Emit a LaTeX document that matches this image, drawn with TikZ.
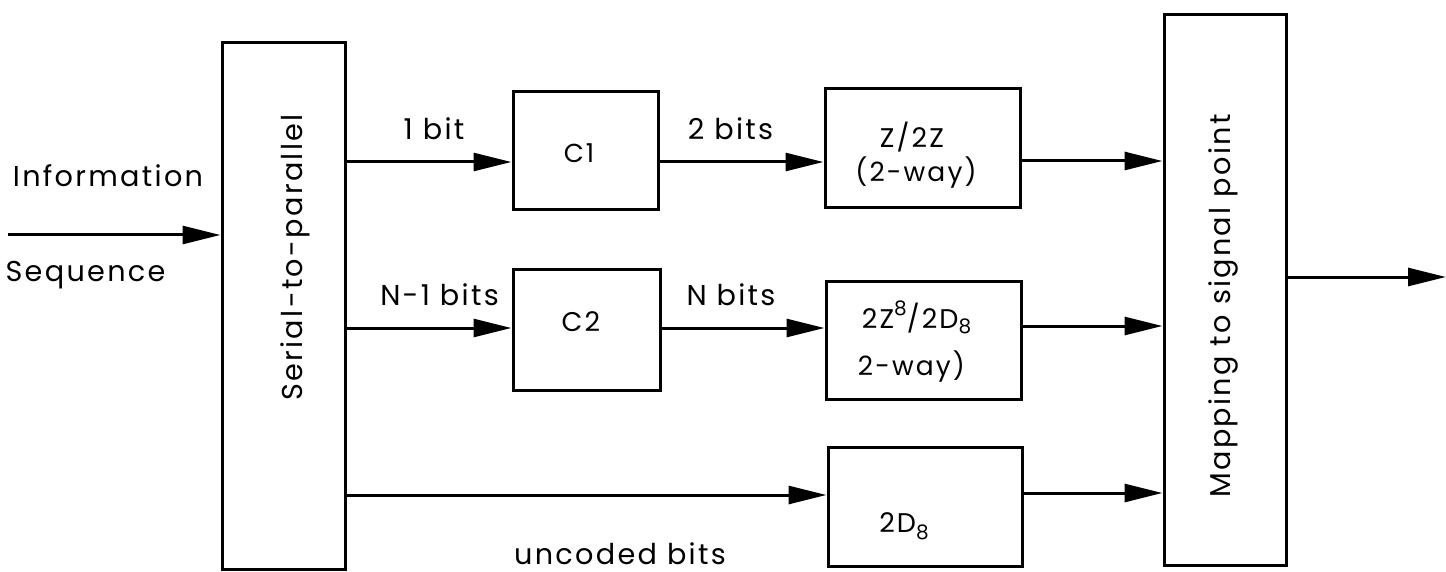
\documentclass[tikz,border=0pt]{standalone}
\usepackage{fontspec}
\setmainfont{Poppins}[LetterSpace=8]
\usetikzlibrary{arrows.meta}
\newcommand\fs[1]{\fontsize{#1pt}{#1pt}\selectfont}
\tikzset{
  box/.style={draw,line width=3pt,inner sep=0pt},
  arr/.style={line width=3pt,-{Triangle[length=38pt,width=18pt]}},
  lbl/.style={inner sep=0pt,anchor=base,font=\fs{28.7}},
  inlbl/.style={inner sep=0pt,anchor=base,font=\fs{26.5}},
}
\begin{document}
\begin{tikzpicture}[x=1pt,y=-1pt]
\useasboundingbox (0,0) rectangle (1446,572);
% boxes
\node[box,minimum width=123pt,minimum height=526pt] (sp) at (283.5,306) {};
\node[box,minimum width=145pt,minimum height=118pt] (c1) at (585.5,151) {};
\node[box,minimum width=147pt,minimum height=121pt] (c2) at (586.5,329.5) {};
\node[box,minimum width=195pt,minimum height=119pt] (zz) at (922.5,148.5) {};
\node[box,minimum width=195pt,minimum height=118pt] (z8) at (923.5,340) {};
\node[box,minimum width=194pt,minimum height=119pt] (d8) at (925,506.5) {};
\node[box,minimum width=122pt,minimum height=550pt] (map) at (1225,290) {};
% texts in boxes
\node[lbl,rotate=90] (tsp) at (302,257.5) {Serial-to-parallel};
\node[lbl,rotate=90] (tmap) at (1230,306) {Mapping to signal point};
\node[inlbl] (tc1) at (579,163) {\fs{26}C1};
\node[inlbl] (tc2) at (581,331) {\fs{27}C2};
\node[inlbl] (tzz) at (912,148) {\fs{27}Z/2Z};
\node[inlbl] (tzzb) at (916,182) {(2-way)};
\node[inlbl] (tz8) at (916.5,328) {\fs{27}2Z\raisebox{13pt}{\fs{20}8}/2D\raisebox{-5pt}{\fs{20}8}};
\node[inlbl] (tz8b) at (911.5,375) {2-way)};
\node[inlbl] (td8) at (904,532) {\fs{27}2D\raisebox{-7pt}{\fs{20}8}};
% labels
\node[lbl] (tinfo) at (108,187) {Information};
\node[lbl] (tseq) at (85.5,281) {Sequence};
\node[lbl] (t1bit) at (434,140) {1 bit};
\node[lbl] (tn1) at (439.5,305) {N-1 bits};
\node[lbl] (t2bits) at (730.5,140) {2 bits};
\node[lbl] (tnbits) at (731,305) {N bits};
\node[lbl] (tunc) at (620,564) {uncoded bits};
% connectors
\coordinate (in) at (8,235);
\coordinate (out) at (1446,277);
\draw[arr] (in) -- (sp.west |- in);
\draw[arr] (sp.east |- 0,162) -- (c1.west |- 0,162);
\draw[arr] (c1.east |- 0,162) -- (zz.west |- 0,162);
\draw[arr] (zz.east |- 0,161) -- (map.west |- 0,161);
\draw[arr] (sp.east |- 0,328) -- (c2.west |- 0,328);
\draw[arr] (c2.east |- 0,328) -- (z8.west |- 0,328);
\draw[arr] (z8.east |- 0,326) -- (map.west |- 0,326);
\draw[arr] (sp.east |- 0,495) -- (d8.west |- 0,495);
\draw[arr] (d8.east |- 0,493) -- (map.west |- 0,493);
\draw[arr] (map.east |- out) -- (out);
\end{tikzpicture}
\end{document}
